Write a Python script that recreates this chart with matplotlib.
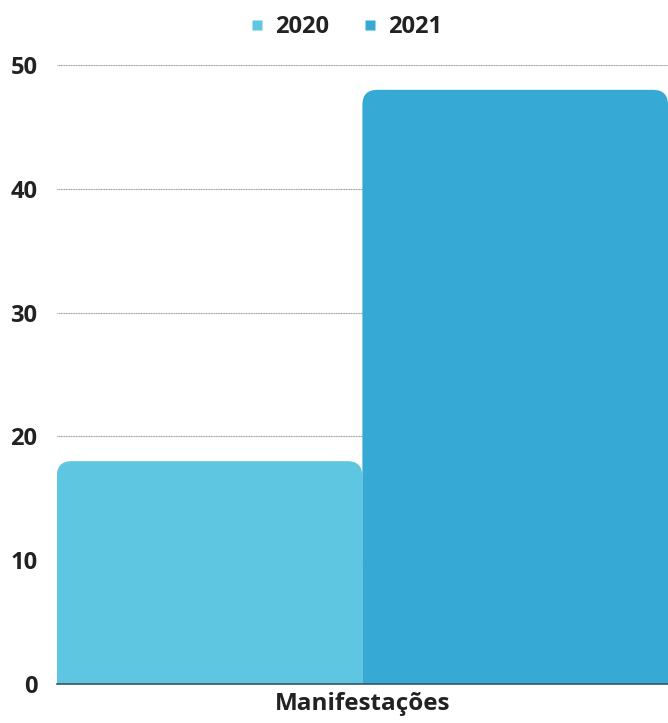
import matplotlib.pyplot as plt
from matplotlib.patches import FancyBboxPatch
from matplotlib.lines import Line2D

plt.rcParams['font.family'] = ['Open Sans', 'DejaVu Sans']

categories = ['Manifestações']
series = ['2020', '2021']
values = [18, 48]
colors = ['#5ec6e0', '#37a9d5']
yticks = [0, 10, 20, 30, 40, 50]

fig = plt.figure(figsize=(6.68, 7.23), dpi=100)
ax = fig.add_axes([0.085, 0.054, 0.915, 0.856])

ax.set_xlim(-0.5, 1.5)
ax.set_ylim(0, 50)

# bars, then swap for rounded-top versions
bars = ax.bar(range(len(series)), values, width=1.0, color=colors, zorder=2)
fig.canvas.draw()
bb = ax.get_window_extent()
px_x = bb.width / 2.0
px_y = bb.height / 50.0
r_px = 15
for b, c in zip(bars, colors):
    x0, w, h = b.get_x(), b.get_width(), b.get_height()
    b.remove()
    r = r_px / px_x
    extra = r_px / px_y
    p = FancyBboxPatch((x0, -extra), w, h + extra,
                       boxstyle=f"round,pad=0,rounding_size={r}",
                       mutation_aspect=px_x / px_y,
                       facecolor=c, edgecolor='none', zorder=2)
    ax.add_patch(p)

ax.set_yticks(yticks)
ax.set_yticklabels([str(t) for t in yticks], fontsize=17, fontweight='bold', color='#222222')
ax.tick_params(axis='y', length=0, pad=14)
ax.set_xticks([])
ax.yaxis.grid(True, color='#9a9a9a', linewidth=0.8, linestyle=(0, (1, 0.5)))
ax.set_axisbelow(True)

for s in ['top', 'right', 'left']:
    ax.spines[s].set_visible(False)
ax.spines['bottom'].set_color('#3a5560')
ax.spines['bottom'].set_linewidth(1.2)
ax.spines['bottom'].set_zorder(3)

ax.set_xlabel(categories[0], fontsize=17.5, fontweight='bold', color='#222222', labelpad=6)

handles = [Line2D([], [], marker='s', linestyle='none', markersize=7.5,
                  markerfacecolor=c, markeredgecolor='none') for c in colors]
leg = fig.legend(handles, series, loc='center', bbox_to_anchor=(0.518, 0.962),
                 ncol=2, frameon=False, handlelength=0.6, handletextpad=0.5,
                 columnspacing=1.4, prop={'weight': 'bold', 'size': 17})
for t in leg.get_texts():
    t.set_color('#222222')

fig.savefig('out.png', dpi=100)
